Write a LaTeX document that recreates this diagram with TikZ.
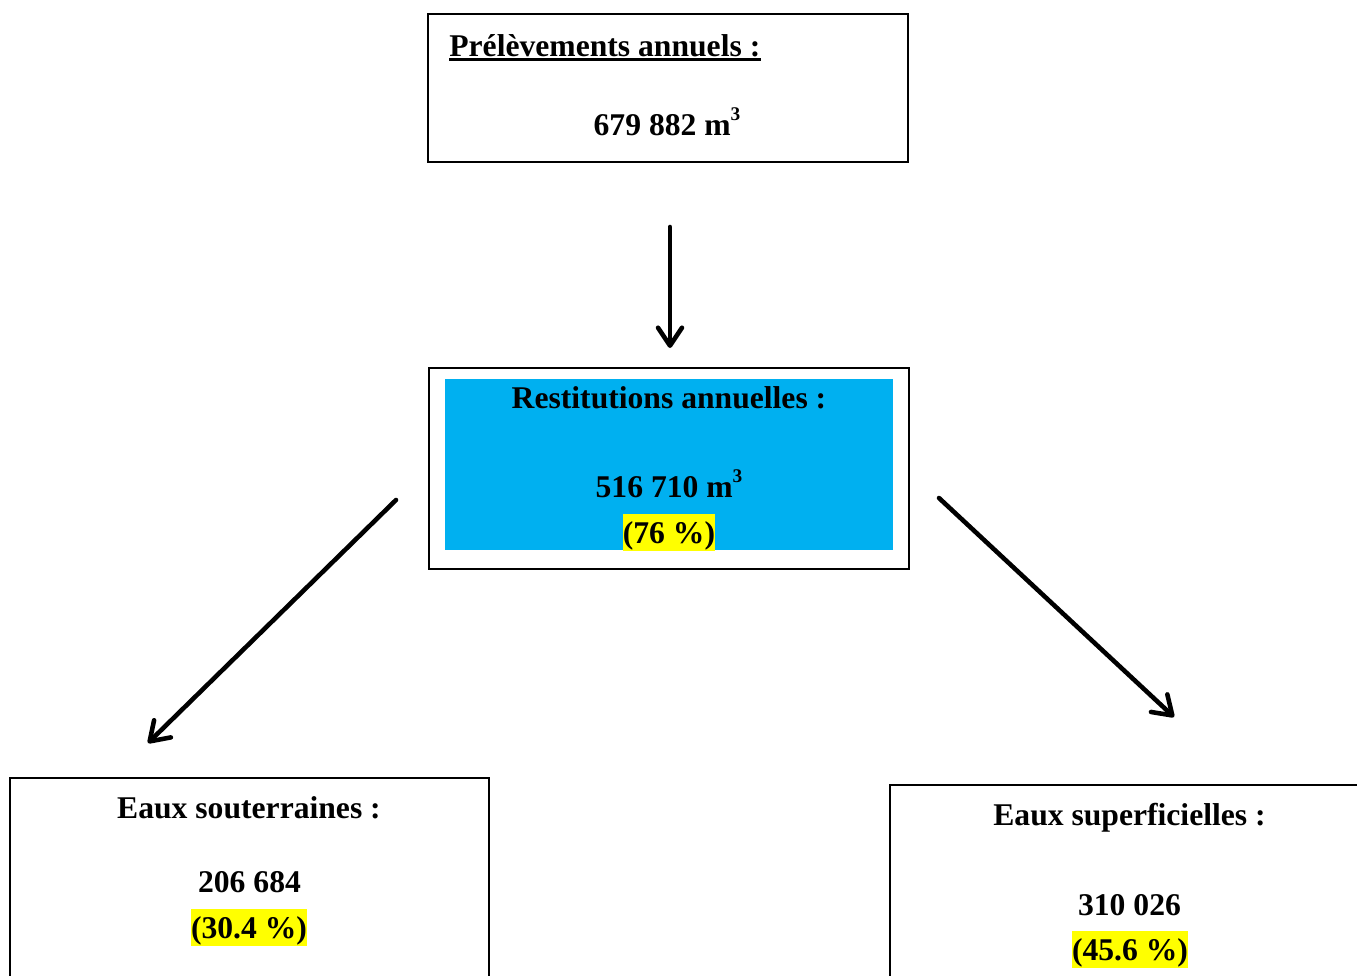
\documentclass[tikz,border=0pt]{standalone}
\usepackage{fontspec}
\setmainfont{Liberation Serif}
\usetikzlibrary{arrows.meta}

\definecolor{bleu}{HTML}{00B0F0}
\definecolor{jaune}{HTML}{FFFF00}

\newcommand{\cube}{\raisebox{0.45em}{\fontsize{11}{11}\selectfont 3}}

\tikzset{
    boite/.style={draw, line width=1.1pt, inner sep=0pt},
    texte/.style={inner sep=0pt, anchor=base, font=\fontsize{18}{22}\selectfont\bfseries},
    surligne/.style={texte, fill=jaune, text height=0.59cm, text depth=0.15cm},
    fleche/.style={line width=2.6pt, line cap=round, -{Straight Barb[length=3.6mm,width=4.8mm,round]}}
}

\begin{document}
\begin{tikzpicture}[x=0.02cm,y=-0.02cm]
    \clip (0,0) rectangle (1357,975);
    % Boites
    \node [boite, minimum width=9.6cm, minimum height=2.96cm](b1) at (668,88) {};
    \node [boite, minimum width=9.6cm, minimum height=4.02cm](b2) at (669,468.5) {};
    \node [fill=bleu, inner sep=0pt, minimum width=8.96cm, minimum height=3.42cm](f2) at (669,464.5) {};
    \node [boite, minimum width=9.58cm, minimum height=4.44cm](b3) at (249.5,889) {};
    \node [boite, minimum width=9.8cm, minimum height=4.3cm](b4) at (1135,892.5) {};

    % Textes
    \node [texte, anchor=base west](t1) at (449,56) {Prélèvements annuels :};
    \draw [line width=2.1pt] ([yshift=-0.07cm]t1.base west) -- ([yshift=-0.07cm]t1.base east);
    \node [texte](v1) at (667,135) {679 882 m\cube};

    \node [texte](t2) at (669,408) {Restitutions annuelles :};
    \node [texte](v2) at (669,497) {516 710 m\cube};
    \node [surligne](p2) at (669,543) {(76 \%)};

    \node [texte](t3) at (249,818) {Eaux souterraines :};
    \node [texte](v3) at (249.5,892) {206 684};
    \node [surligne](p3) at (249,938) {(30.4 \%)};

    \node [texte](t4) at (1129.5,825) {Eaux superficielles :};
    \node [texte](v4) at (1129.5,915) {310 026};
    \node [surligne](p4) at (1130,960) {(45.6 \%)};

    % Fleches
    \coordinate (a1) at (670,227);
    \coordinate (a2) at (670,348);
    \coordinate (a3) at (396,500);
    \coordinate (a4) at (148,743);
    \coordinate (a5) at (939,498);
    \coordinate (a6) at (1174,717);
    \draw [fleche] (a1) -- (a2);
    \draw [fleche] (a3) -- (a4);
    \draw [fleche] (a5) -- (a6);
\end{tikzpicture}
\end{document}
